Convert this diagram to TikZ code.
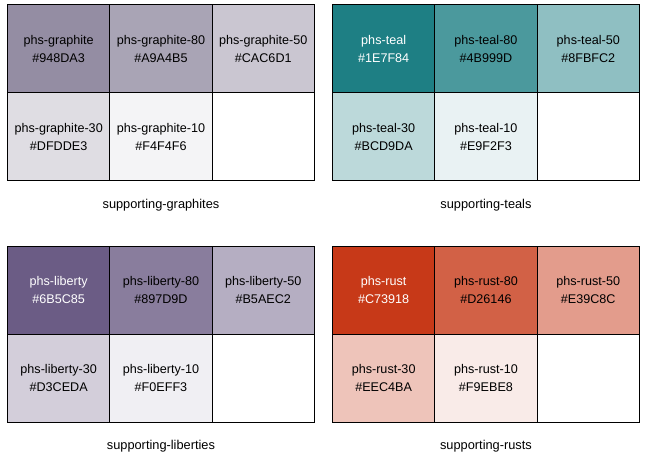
\documentclass[tikz,border=0pt]{standalone}
\usepackage{fontspec}
\setmainfont{Liberation Sans}
\usetikzlibrary{positioning}

\definecolor{graphite}{HTML}{948DA3}
\definecolor{graphite80}{HTML}{A9A4B5}
\definecolor{graphite50}{HTML}{CAC6D1}
\definecolor{graphite30}{HTML}{DFDDE3}
\definecolor{graphite10}{HTML}{F4F4F6}
\definecolor{teal}{HTML}{1E7F84}
\definecolor{teal80}{HTML}{4B999D}
\definecolor{teal50}{HTML}{8FBFC2}
\definecolor{teal30}{HTML}{BCD9DA}
\definecolor{teal10}{HTML}{E9F2F3}
\definecolor{liberty}{HTML}{6B5C85}
\definecolor{liberty80}{HTML}{897D9D}
\definecolor{liberty50}{HTML}{B5AEC2}
\definecolor{liberty30}{HTML}{D3CEDA}
\definecolor{liberty10}{HTML}{F0EFF3}
\definecolor{rust}{HTML}{C73918}
\definecolor{rust80}{HTML}{D26146}
\definecolor{rust50}{HTML}{E39C8C}
\definecolor{rust30}{HTML}{EEC4BA}
\definecolor{rust10}{HTML}{F9EBE8}

\tikzset{
  swatch/.style={draw, line width=1pt, minimum width=102.3pt, minimum height=87.8pt,
    inner sep=0pt, outer sep=0pt, align=center, font=\fontsize{12.6}{18}\selectfont},
  caption/.style={font=\fontsize{12.8}{14}\selectfont},
}

\begin{document}
\begin{tikzpicture}[x=1pt,y=-1pt]
\useasboundingbox (0,0) rectangle (655,462);

% graphites
\node (graphite) [swatch, fill=graphite, anchor=north west] at (7.5,5) {phs-graphite\\\#948DA3};
\node (graphite80) [swatch, fill=graphite80, right=0pt of graphite] {phs-graphite-80\\\#A9A4B5};
\node (graphite50) [swatch, fill=graphite50, right=0pt of graphite80] {phs-graphite-50\\\#CAC6D1};
\node (graphite30) [swatch, fill=graphite30, below=0pt of graphite] {phs-graphite-30\\\#DFDDE3};
\node (graphite10) [swatch, fill=graphite10, right=0pt of graphite30] {phs-graphite-10\\\#F4F4F6};
\node (graphiteempty) [swatch, fill=white, right=0pt of graphite10] {};
\node (graphites) [caption, below=15pt of graphite10.south] {supporting-graphites};

% teals
\node (teal) [swatch, fill=teal, text=white, anchor=north west] at (332.5,5) {phs-teal\\\#1E7F84};
\node (teal80) [swatch, fill=teal80, right=0pt of teal] {phs-teal-80\\\#4B999D};
\node (teal50) [swatch, fill=teal50, right=0pt of teal80] {phs-teal-50\\\#8FBFC2};
\node (teal30) [swatch, fill=teal30, below=0pt of teal] {phs-teal-30\\\#BCD9DA};
\node (teal10) [swatch, fill=teal10, right=0pt of teal30] {phs-teal-10\\\#E9F2F3};
\node (tealempty) [swatch, fill=white, right=0pt of teal10] {};
\node (teals) [caption, below=15pt of teal10.south] {supporting-teals};

% liberties
\node (liberty) [swatch, fill=liberty, text=white, anchor=north west] at (7.5,246.5) {phs-liberty\\\#6B5C85};
\node (liberty80) [swatch, fill=liberty80, right=0pt of liberty] {phs-liberty-80\\\#897D9D};
\node (liberty50) [swatch, fill=liberty50, right=0pt of liberty80] {phs-liberty-50\\\#B5AEC2};
\node (liberty30) [swatch, fill=liberty30, below=0pt of liberty] {phs-liberty-30\\\#D3CEDA};
\node (liberty10) [swatch, fill=liberty10, right=0pt of liberty30] {phs-liberty-10\\\#F0EFF3};
\node (libertyempty) [swatch, fill=white, right=0pt of liberty10] {};
\node (liberties) [caption, below=15pt of liberty10.south] {supporting-liberties};

% rusts
\node (rust) [swatch, fill=rust, text=white, anchor=north west] at (332.5,246.5) {phs-rust\\\#C73918};
\node (rust80) [swatch, fill=rust80, right=0pt of rust] {phs-rust-80\\\#D26146};
\node (rust50) [swatch, fill=rust50, right=0pt of rust80] {phs-rust-50\\\#E39C8C};
\node (rust30) [swatch, fill=rust30, below=0pt of rust] {phs-rust-30\\\#EEC4BA};
\node (rust10) [swatch, fill=rust10, right=0pt of rust30] {phs-rust-10\\\#F9EBE8};
\node (rustempty) [swatch, fill=white, right=0pt of rust10] {};
\node (rusts) [caption, below=15pt of rust10.south] {supporting-rusts};
\end{tikzpicture}
\end{document}
